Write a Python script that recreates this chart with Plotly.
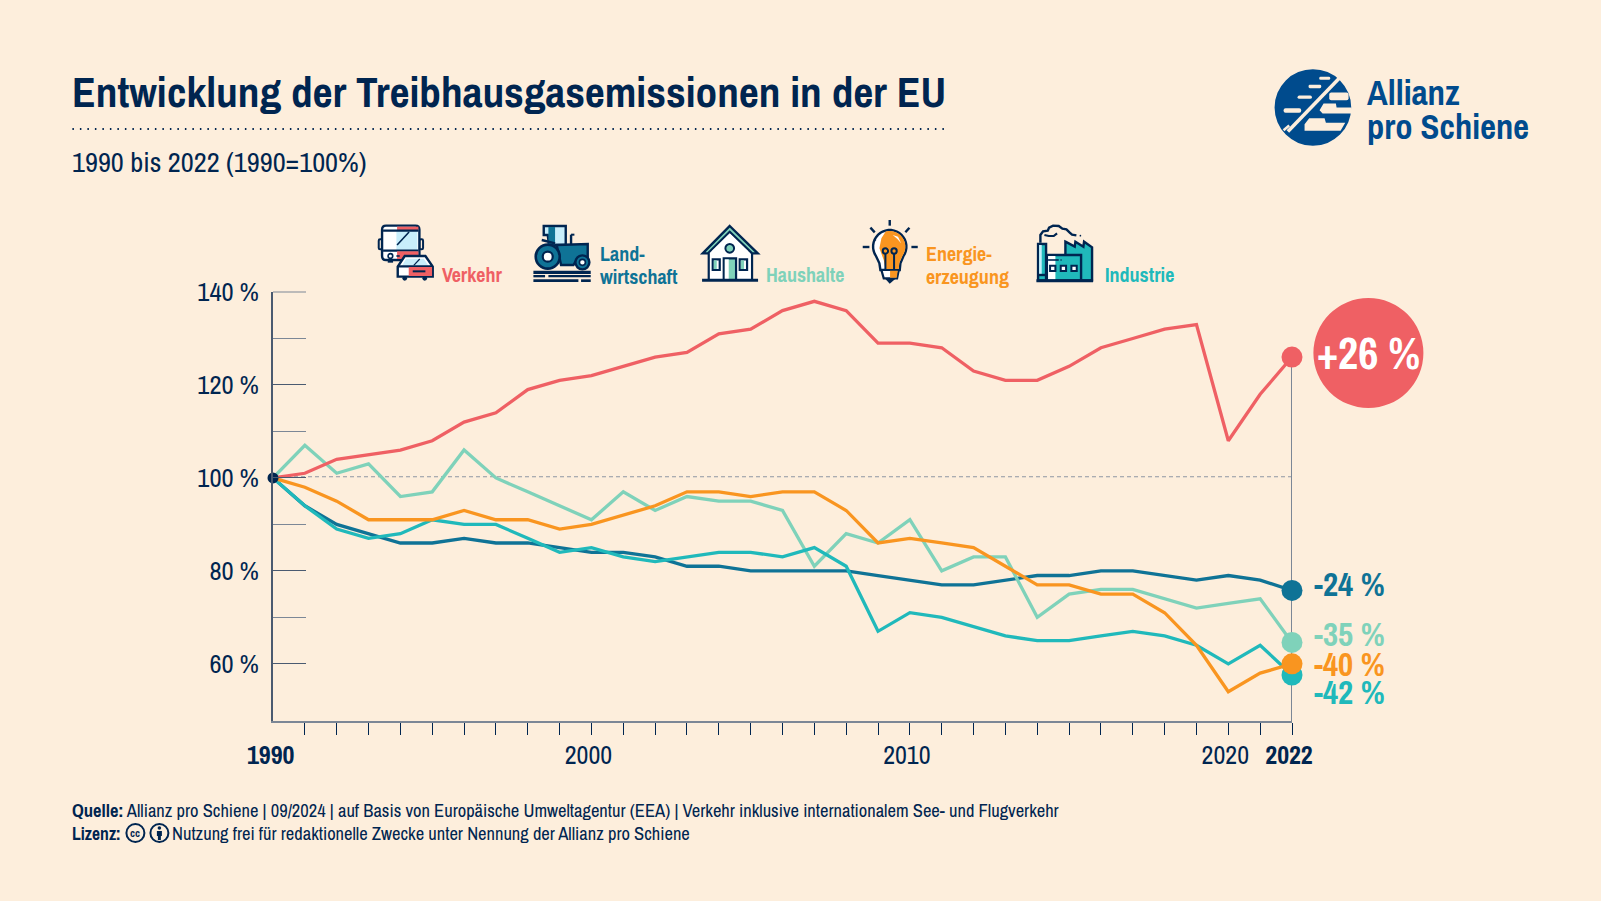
import math
import plotly.graph_objects as go

# ---- data ----
years = list(range(1990, 2023))
verkehr = [100,101,104,105,106,108,112,114,119,121,122,124,126,127,131,132,136,138,136,129,129,128,123,121,121,124,128,130,132,133,108,118,126]
landwirtschaft = [100,94,90,88,86,86,87,86,86,85,84,84,83,81,81,80,80,80,80,79,78,77,77,78,79,79,80,80,79,78,79,78,75.8]
haushalte = [100,107,101,103,96,97,106,100,97,94,91,97,93,96,95,95,93,81,88,86,91,80,83,83,70,75,76,76,74,72,73,74,64.6]
energie = [100,98,95,91,91,91,93,91,91,89,90,92,94,97,97,96,97,97,93,86,87,86,85,81,77,77,75,75,71,64,54,58,60]
industrie = [100,94,89,87,88,91,90,90,87,84,85,83,82,83,84,84,83,85,81,67,71,70,68,66,65,65,66,67,66,64,60,64,57.6]
y_major = [60, 80, 100, 120, 140]
y_minor = [70, 90, 110, 130]
x_labels = {2000: "2000", 2010: "2010", 2020: "2020", 2022: "<b>2022</b>"}
end_labels = ["+26 %", "-24 %", "-35 %", "-40 %", "-42 %"]

# ---- style ----
W, H = 1601, 901
BG = "#FDEEDC"; NAVY = "#002550"; BLUE = "#004B8D"; AXIS = "#4A5A70"; GREY = "#7C8796"
C_V = "#EF6064"; C_L = "#0F7396"; C_H = "#7FD2BA"; C_E = "#F99520"; C_I = "#20B9BB"
ICE = "#C8EEFB"; WHITE = "#FFFFFF"; NONE = "rgba(0,0,0,0)"
FONT = "Archivo Narrow, Roboto Condensed, Barlow Condensed, Liberation Sans Narrow, sans-serif"
L, R, T, B = 272.6, 1291.6, 292, 721

px = lambda x: (x - L) / (R - L)
py = lambda y: (B - y) / (B - T)
shapes = []
OX, OY, SC = 0.0, 0.0, 1.0

def origin(x=0.0, y=0.0, s=1.0):
    global OX, OY, SC
    OX, OY, SC = x, y, s

tx = lambda x: px(OX + x * SC)
ty = lambda y: py(OY + y * SC)

def rect(x0, y0, x1, y1, fill=None, line=None, w=0):
    shapes.append(dict(type="rect", xref="paper", yref="paper", x0=tx(x0), x1=tx(x1), y0=ty(y1), y1=ty(y0),
                       fillcolor=fill or NONE, line=dict(color=line or NONE, width=w)))

def rr(x0, y0, x1, y1, r, fill=None, line=None, w=0):
    c = lambda x, y: f"{tx(x):.5f} {ty(y):.5f}"
    d = (f"M {c(x0+r,y0)} L {c(x1-r,y0)} Q {c(x1,y0)} {c(x1,y0+r)} L {c(x1,y1-r)} Q {c(x1,y1)} {c(x1-r,y1)} "
         f"L {c(x0+r,y1)} Q {c(x0,y1)} {c(x0,y1-r)} L {c(x0,y0+r)} Q {c(x0,y0)} {c(x0+r,y0)} Z")
    shapes.append(dict(type="path", xref="paper", yref="paper", path=d, fillcolor=fill or NONE, line=dict(color=line or NONE, width=w)))

def circ(cx, cy, r, fill=None, line=None, w=0):
    shapes.append(dict(type="circle", xref="paper", yref="paper", x0=tx(cx - r), x1=tx(cx + r), y0=ty(cy + r), y1=ty(cy - r),
                       fillcolor=fill or NONE, line=dict(color=line or NONE, width=w)))

def poly(pts, fill=None, line=None, w=0, close=True):
    d = "M " + " L ".join(f"{tx(x):.5f} {ty(y):.5f}" for x, y in pts) + (" Z" if close else "")
    shapes.append(dict(type="path", xref="paper", yref="paper", path=d, fillcolor=fill or NONE, line=dict(color=line or NONE, width=w)))

def seg(x0, y0, x1, y1, c=NAVY, w=2.4):
    shapes.append(dict(type="line", xref="paper", yref="paper", x0=tx(x0), x1=tx(x1), y0=ty(y0), y1=ty(y1), line=dict(color=c, width=w)))

# ---- title rule ----
shapes.append(dict(type="line", xref="paper", yref="paper", x0=px(72), x1=px(948), y0=py(129), y1=py(129),
                   line=dict(color=NAVY, width=2, dash="1.5px 6px")))

# ---- reference lines on data axes ----
shapes.append(dict(type="line", xref="x", yref="y", x0=years[0], x1=years[-1], y0=100.25, y1=100.25, layer="below",
                   line=dict(color="#8E96A3", width=1, dash="4px 3px")))
shapes.append(dict(type="line", xref="x", yref="y", x0=years[-1], x1=years[-1], y0=47.7, y1=verkehr[-1], layer="below",
                   line=dict(color=GREY, width=2)))
# top tick (plotly hides an inside tick that sits on the axis end)
seg(L, T, L + 33, T, c=GREY, w=1)

# ---- big bubble ----
circ(1368, 353, 55, fill=C_V)

# ---- cc icons ----
circ(135, 833, 9, line=NAVY, w=2)
circ(159, 833, 9, line=NAVY, w=2)
circ(159, 828, 1.8, fill=NAVY)
rect(156.5, 831, 161.5, 836, fill=NAVY)
rect(157.5, 836, 160.5, 840, fill=NAVY)

# ---- logo ----
origin(1312.5 - 143 / 3, 107.5 - 140 / 3, 1 / 3)
circ(143, 140, 115, fill=BLUE)
seg(222, 52, 68, 212, c=BG, w=3.5)
seg(55, 208, 72, 194, c=BG, w=2.5)
rr(162, 48, 195, 57, 4, fill=BG)
rr(130, 72, 168, 82, 4, fill=BG)
rr(97, 104, 140, 114, 5, fill=BG)
rr(55, 142, 108, 156, 6, fill=BG)
rr(192, 95, 250, 118, 6, fill=BG)
poly([(175, 128), (212, 128), (214, 140), (259, 140), (259, 158), (172, 158), (163, 148)], fill=BG)
poly([(132, 172), (178, 172), (182, 186), (240, 186), (226, 210), (118, 210), (118, 190)], fill=BG)

# ---- bus + car ----
origin(370, 220, 1 / 3)
rr(25, 58, 36, 88, 4, fill=BG, line=NAVY, w=2)
rr(147, 58, 158, 88, 4, fill=BG, line=NAVY, w=2)
rect(52, 118, 68, 128, fill=NAVY); rect(120, 118, 135, 128, fill=NAVY)
rr(35, 17, 147, 120, 12, fill=WHITE, line=NAVY, w=2.4)
rect(80, 20, 144, 30, fill=C_V)
poly([(78, 33), (141, 33), (141, 90), (78, 90)], fill=ICE)
seg(38, 32, 144, 32); seg(38, 92, 144, 92)
rect(80, 94, 144, 117, fill=C_V)
seg(80, 75, 116, 36, c=NAVY, w=1.6)
circ(60, 108, 7, fill=WHITE, line=NAVY, w=1.6)
seg(78, 108, 88, 108, c=NAVY, w=1.6)
circ(103, 175, 7, fill=NAVY); circ(163, 175, 7, fill=NAVY)
poly([(103, 108), (165, 108), (187, 140), (187, 170), (82, 170), (82, 140)], fill=WHITE, line=NAVY, w=2.4)
poly([(107, 116), (160, 116), (174, 137), (95, 137)], fill=ICE)
seg(130, 136, 148, 117, c=NAVY, w=1.2)
seg(82, 139, 187, 139)
rect(115, 141, 185, 168, fill=C_V)
seg(127, 154, 165, 154, w=2)

# ---- tractor ----
origin(528, 220, 1 / 3)
poly([(46, 18), (112, 18), (112, 75), (62, 75), (58, 45), (46, 45)], fill=ICE, line=NAVY, w=2.4)
rect(60, 21, 80, 73, fill=C_L)
seg(128, 72, 128, 44); seg(128, 44, 138, 44, w=2)
poly([(85, 75), (178, 72), (178, 118), (145, 118), (135, 135), (98, 135)], fill=C_L, line=NAVY, w=2.4)
seg(40, 60, 80, 70, c=NAVY, w=2.4)
circ(58, 110, 36, fill=C_L, line=NAVY, w=2.6)
circ(58, 110, 15, fill=WHITE, line=NAVY, w=2.2)
circ(162, 127, 21, fill=C_L, line=NAVY, w=2.4)
circ(162, 127, 9, fill=WHITE, line=NAVY, w=1.6)
rect(15, 152, 187, 162, fill=NAVY)
rect(15, 165, 50, 172, fill=NAVY); rect(60, 165, 187, 172, fill=NAVY)
rect(15, 178, 150, 186, fill=NAVY); rect(158, 178, 187, 186, fill=NAVY)

# ---- house ----
origin(695, 220, 1 / 3)
rect(40, 96, 170, 180, fill=WHITE, line=NAVY, w=2.2)
poly([(103, 18), (187, 100), (170, 100), (103, 36), (38, 100), (22, 100)], fill=C_H, line=NAVY, w=2.4)
poly([(103, 40), (165, 100), (42, 100)], fill=WHITE)
circ(103, 85, 13, fill=C_H, line=NAVY, w=2)
rect(85, 115, 122, 180, fill=C_H, line=NAVY, w=2.2)
rect(88, 118, 100, 178, fill=WHITE)
rect(52, 118, 73, 150, fill=WHITE, line=NAVY, w=2.2)
rect(55, 121, 64, 147, fill=C_H)
rect(133, 118, 155, 150, fill=WHITE, line=NAVY, w=2.2)
rect(136, 121, 146, 147, fill=C_H)
seg(20, 181, 188, 181, w=3)

# ---- bulb ----
origin(855, 215, 1 / 3)
outline = [(133, 165), (135, 145)] + [(103 + 50 * math.cos(math.radians(a)), 95 - 50 * math.sin(math.radians(a))) for a in range(-35, 216, 10)] + [(72, 145), (75, 165)]
poly(outline, fill=WHITE, line=NAVY, w=2.4)
fill_pts = [(130, 162), (132, 143)] + [(103 + 47 * math.cos(math.radians(a)), 95 - 47 * math.sin(math.radians(a))) for a in range(-35, 106, 10)] + [(78, 70), (72, 100), (85, 135), (90, 162)]
poly(fill_pts, fill=C_E)
poly([(112, 60), (128, 65), (137, 85), (126, 72)], fill=WHITE)
circ(90, 108, 8, line=NAVY, w=2)
circ(116, 108, 8, line=NAVY, w=2)
seg(90, 116, 90, 165, w=2); seg(116, 116, 116, 165, w=2)
poly([(78, 165), (130, 165), (125, 190), (85, 190)], fill=WHITE, line=NAVY, w=2.2)
poly([(104, 167), (127, 167), (124, 188), (104, 188)], fill=C_E)
poly([(88, 190), (122, 190), (103, 206)], fill=NAVY)
seg(103, 15, 103, 32); seg(45, 38, 58, 52); seg(162, 38, 150, 52)
seg(22, 96, 42, 96); seg(168, 96, 187, 96)
circ(60, 75, 2.5, fill=NAVY)

# ---- factory ----
origin(1030, 220, 1 / 3)
poly([(105, 65), (133, 80), (135, 65), (159, 80), (161, 65), (185, 82), (185, 181), (105, 181)], fill=C_I, line=NAVY, w=2.4)
rect(50, 105, 152, 181, fill=C_I, line=NAVY, w=2.4)
rect(53, 108, 75, 178, fill=WHITE)
rect(23, 72, 47, 181, fill=C_I, line=NAVY, w=2.4)
rect(26, 75, 34, 165, fill=ICE)
seg(23, 165, 47, 165)
for wx in (67, 99, 131):
    rect(wx - 8, 137, wx + 8, 153, fill=WHITE, line=NAVY, w=2)
seg(53, 120, 85, 120, w=1.6); circ(92, 120, 2.5, fill=NAVY)
seg(18, 182, 188, 182, w=3)
poly([(30, 68), (30, 45), (38, 34), (52, 32), (56, 23), (68, 17), (85, 18), (96, 26), (108, 28), (118, 38), (125, 44), (138, 46)],
     line=NAVY, w=2.4, close=False)
poly([(42, 45), (55, 48), (70, 48), (80, 40)], line=NAVY, w=2.2, close=False)
circ(150, 47, 2.5, fill=NAVY)
origin()

# ---- figure ----
fig = go.Figure()
series = [(landwirtschaft, C_L), (haushalte, C_H), (industrie, C_I), (verkehr, C_V), (energie, C_E)]
for vals, col in series:
    fig.add_trace(go.Scatter(x=years, y=vals, mode="lines", line=dict(color=col, width=3.3), cliponaxis=False, hoverinfo="skip"))
for vals, col in [(verkehr, C_V), (landwirtschaft, C_L), (haushalte, C_H), (industrie, C_I), (energie, C_E)]:
    fig.add_trace(go.Scatter(x=years[-1:], y=vals[-1:], mode="markers", marker=dict(color=col, size=21), cliponaxis=False, hoverinfo="skip"))
fig.add_trace(go.Scatter(x=years[:1], y=verkehr[:1], mode="markers", marker=dict(color=NAVY, size=11), cliponaxis=False, hoverinfo="skip"))

def note(x, y, text, size, color=NAVY, anchor="left"):
    fig.add_annotation(xref="paper", yref="paper", x=px(x), y=py(y), text=text, showarrow=False, xanchor=anchor, yanchor="middle",
                       align="left", font=dict(family=FONT, size=size, color=color), borderpad=0, borderwidth=0)

note(72, 91, "<b>Entwicklung der Treibhausgasemissionen in der EU</b>", 43.3)
note(72, 162, "1990 bis 2022 (1990=100%)", 28.4)
note(1368, 353, "<b>" + end_labels[0] + "</b>", 44, WHITE, anchor="center")
note(1314, 584, "<b>" + end_labels[1] + "</b>", 33, C_L)
note(1314, 634, "<b>" + end_labels[2] + "</b>", 33, C_H)
note(1314, 664, "<b>" + end_labels[3] + "</b>", 33, C_E)
note(1314, 692, "<b>" + end_labels[4] + "</b>", 33, C_I)
note(442, 275, "<b>Verkehr</b>", 20, C_V)
note(600, 253, "<b>Land-</b>", 20, C_L)
note(600, 276, "<b>wirtschaft</b>", 20, C_L)
note(766, 275, "<b>Haushalte</b>", 20, C_H)
note(926, 253, "<b>Energie-</b>", 20, C_E)
note(926, 276, "<b>erzeugung</b>", 20, C_E)
note(1105, 275, "<b>Industrie</b>", 20, C_I)
note(1367, 92, "<b>Allianz</b>", 35, BLUE)
note(1367, 126, "<b>pro Schiene</b>", 34.5, BLUE)
note(72, 810, "<b>Quelle:</b> Allianz pro Schiene | 09/2024 | auf Basis von Europäische Umweltagentur (EEA) | Verkehr inklusive internationalem See- und Flugverkehr", 18.5)
note(72, 833, "<b>Lizenz:</b>", 17.6)
note(172, 833, "Nutzung frei für redaktionelle Zwecke unter Nennung der Allianz pro Schiene", 18.5)
note(135, 833, "<b>cc</b>", 11, anchor="center")
note(270.6, 754, "<b>" + str(years[0]) + "</b>", 26, anchor="center")

fig.update_layout(
    width=W, height=H, autosize=False, showlegend=False,
    paper_bgcolor=BG, plot_bgcolor="rgba(0,0,0,0)",
    margin=dict(l=L, r=W - R, t=T, b=H - B, pad=0),
    font=dict(family=FONT, color=NAVY),
    shapes=shapes,
    xaxis=dict(range=[years[0], years[-1]], tickmode="array", tickvals=years[1:],
               ticktext=[x_labels.get(v, "") for v in years[1:]], ticks="outside", ticklen=12, tickwidth=1.3,
               tickcolor=NAVY, showgrid=False, zeroline=False, showline=True, linecolor=GREY, linewidth=2,
               tickfont=dict(family=FONT, size=26, color=NAVY), tickangle=0, ticklabeloverflow="allow",
               ticklabelshift=-3, ticklabelstandoff=-2),
    yaxis=dict(range=[47.7, 140], tickmode="array", tickvals=y_major, ticktext=[f"{v} %" for v in y_major],
               ticks="inside", ticklen=33, tickwidth=1, tickcolor=AXIS, showgrid=False, zeroline=False,
               showline=True, linecolor=AXIS, linewidth=1.5, ticklabelstandoff=7,
               tickfont=dict(family=FONT, size=26.5, color=NAVY),
               minor=dict(tickmode="array", tickvals=y_minor, ticks="inside", ticklen=33, tickwidth=1, tickcolor=GREY, showgrid=False)),
)
fig.write_html("out.html", post_script="document.body.style.margin='0';document.documentElement.style.background='%s';" % BG,
               config={"displayModeBar": False})
